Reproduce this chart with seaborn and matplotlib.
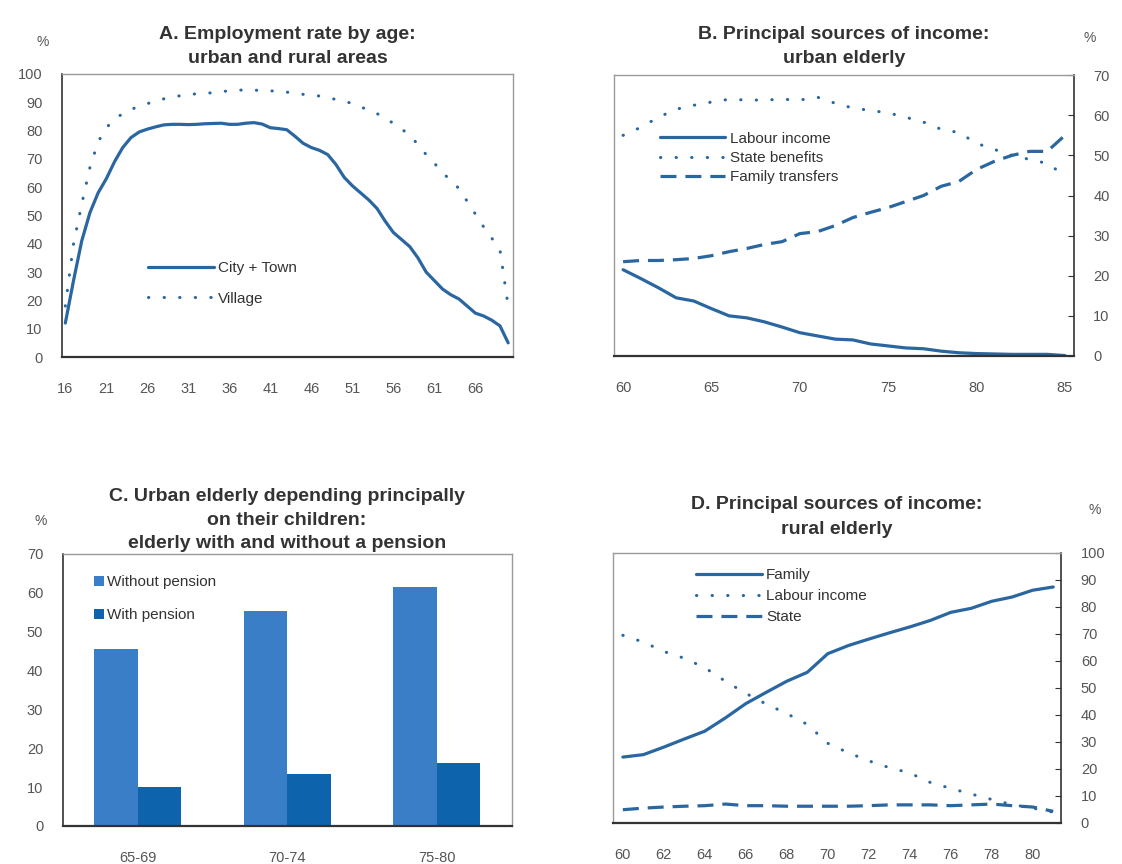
import numpy as np
import pandas as pd
import matplotlib
matplotlib.use("Agg")
import matplotlib.pyplot as plt
import seaborn as sns

sns.set_style("white")
plt.rcParams['font.family'] = ['Liberation Sans', 'DejaVu Sans']

# ---------------- Data ----------------
# Panel A
ages_a = list(range(16, 71))
city_town = [12, 27, 41, 51, 58, 63, 69, 74, 77.5, 79.5, 80.5, 81.3, 82, 82.2, 82.2, 82.1, 82.2, 82.4, 82.5, 82.6,
             82.2, 82.2, 82.6, 82.8, 82.3, 81, 80.7, 80.3, 78, 75.5, 74, 73, 71.5, 68, 63.5, 60.5, 58, 55.5, 52.5, 48,
             44, 41.5, 39, 35, 30, 27, 24, 22, 20.5, 18, 15.5, 14.5, 13, 11, 5]
village = [18, 40, 54, 67, 76, 81, 84, 86, 87.5, 88.5, 89.5, 90.5, 91.2, 91.8, 92.3, 92.7, 93, 93.1, 93.4, 93.7,
           94.1, 94.3, 94.3, 94.3, 94.1, 94, 94, 93.6, 93.1, 92.8, 92.5, 92.2, 91.6, 91, 90.3, 89.6, 88.5, 87, 86, 84.5,
           82.5, 80.5, 78.5, 75, 71.5, 68.5, 65, 62.5, 59.5, 55, 50.5, 46, 42, 37.8, 18]
a_xticks = [16, 21, 26, 31, 36, 41, 46, 51, 56, 61, 66]

# Panel B
ages_b = list(range(60, 86))
b_labour = [21.5, 19.3, 17, 14.5, 13.7, 11.8, 10, 9.5, 8.5, 7.2, 5.8, 5, 4.2, 4, 3, 2.5, 2, 1.8, 1.2, 0.8,
            0.6, 0.5, 0.4, 0.4, 0.4, 0.1]
b_state = [55, 57, 59.5, 61.5, 62.5, 63.3, 64, 63.8, 63.8, 64, 63.8, 64.5, 63, 61.8, 61.2, 60.6, 59.5, 58.3, 56.5,
           55.7, 53, 51.5, 50, 49, 48, 45]
b_family = [23.5, 23.8, 23.8, 24, 24.3, 25, 26, 26.8, 27.8, 28.5, 30.5, 31, 32.5, 34.5, 35.8, 37, 38.5, 40, 42.3,
            43.5, 46.5, 48.5, 50, 51, 51, 55]
b_xticks = [60, 65, 70, 75, 80, 85]

# Panel C
c_groups = ["65-69", "70-74", "75-80"]
c_without = [45.5, 55.4, 61.6]
c_with = [10.1, 13.4, 16.3]
c_series = ["Without pension", "With pension"]

# Panel D
ages_d = list(range(60, 82))
d_family = [24.4, 25.3, 28.1, 31.1, 34, 38.9, 44.2, 48.4, 52.5, 55.8, 62.7, 65.7, 68.1, 70.4, 72.6, 75, 78, 79.5,
            82.1, 83.7, 86.2, 87.4]
d_labour = [69.5, 67, 63.5, 61, 57.5, 52.5, 48, 44, 40.5, 36.5, 29.5, 26, 23, 20.5, 18.5, 15, 12.8, 10.7, 8.7,
            6.8, 5.5, 4]
d_state = [4.9, 5.5, 5.9, 6.2, 6.4, 7, 6.4, 6.4, 6.2, 6.2, 6.2, 6.2, 6.4, 6.7, 6.7, 6.7, 6.4, 6.7, 7, 6.4, 5.9, 4.3]
d_xticks = [60, 62, 64, 66, 68, 70, 72, 74, 76, 78, 80]

# ---------------- Style ----------------
LINE = "#2a66a0"
BAR1 = "#3b7ec8"
BAR2 = "#0e63ad"
TXT = "#333333"
TICK = "#555555"
DARK = "#333333"
LIGHT = "#9a9a9a"

solid = dict(color=LINE, lw=2.3, linestyle="-")
dotted = dict(color=LINE, lw=2.2, linestyle=(0, (0.1, 5.0)), dash_capstyle="round")
dashed = dict(color=LINE, lw=2.3, linestyle=(0, (5, 2.8)))

fig = plt.figure(figsize=(11.22, 8.64), dpi=100)

def frame(ax, side="left"):
    for s in ["top", "right", "left", "bottom"]:
        ax.spines[s].set_color(LIGHT)
        ax.spines[s].set_linewidth(1.0)
    ax.spines["bottom"].set_color(DARK)
    ax.spines["bottom"].set_linewidth(1.6)
    ax.spines[side].set_color(DARK)
    ax.spines[side].set_linewidth(1.2)
    if side == "right":
        ax.yaxis.tick_right()
    ax.tick_params(axis="y", which="both", direction="in", length=4, color=DARK,
                   labelsize=10.5, labelcolor=TICK, pad=14)
    ax.tick_params(axis="x", which="major", labelsize=10.5, labelcolor=TICK, pad=18)
    ax.set_xlabel("")
    ax.set_ylabel("")

# ---------- Panel A ----------
axA = fig.add_axes([0.0553, 0.5868, 0.402, 0.3276])
sns.lineplot(x=ages_a, y=city_town, ax=axA, label="City + Town", **solid)
sns.lineplot(x=ages_a, y=village, ax=axA, label="Village", **dotted)
axA.set_xlim(15.6, 70.6)
axA.set_ylim(0, 100)
axA.set_yticks(range(0, 101, 10))
axA.set_xticks(a_xticks)
axA.set_xticks(ages_a, minor=True)
frame(axA, "left")
axA.tick_params(axis="x", which="both", direction="in", length=5, color=DARK)
axA.legend(loc="center left", bbox_to_anchor=(0.16, 0.26), frameon=False, fontsize=11,
           handlelength=4.3, labelspacing=1.1, handletextpad=0.3, labelcolor=TXT)
axA.set_title("A. Employment rate by age:\nurban and rural areas", fontsize=14, fontweight="bold",
              color=TXT, pad=8, linespacing=1.55)
fig.text(0.038, 0.951, "%", fontsize=10, color=TICK, ha="center", va="center")

# ---------- Panel B ----------
axB = fig.add_axes([0.547, 0.588, 0.41, 0.325])
sns.lineplot(x=ages_b, y=b_labour, ax=axB, label="Labour income", **solid)
sns.lineplot(x=ages_b, y=b_state, ax=axB, label="State benefits", **dotted)
sns.lineplot(x=ages_b, y=b_family, ax=axB, label="Family transfers", **dashed)
axB.set_xlim(59.47, 85.5)
axB.set_ylim(0, 70)
axB.set_yticks(range(0, 71, 10))
axB.set_xticks(b_xticks)
axB.set_xticks(ages_b, minor=True)
frame(axB, "right")
axB.tick_params(axis="x", which="both", direction="in", length=5, color=DARK)
axB.legend(loc="center left", bbox_to_anchor=(0.07, 0.705), frameon=False, fontsize=11,
           handlelength=4.3, labelspacing=0.35, handletextpad=0.3, labelcolor=TXT)
axB.set_title("B. Principal sources of income:\nurban elderly", fontsize=14, fontweight="bold",
              color=TXT, pad=9, linespacing=1.55)
fig.text(0.971, 0.956, "%", fontsize=10, color=TICK, ha="center", va="center")

# ---------- Panel C ----------
axC = fig.add_axes([0.0559, 0.044, 0.400, 0.3148])
dfC = pd.DataFrame({
    "group": c_groups * 2,
    "value": c_without + c_with,
    "series": [c_series[0]] * 3 + [c_series[1]] * 3,
})
sns.barplot(data=dfC, x="group", y="value", hue="series", ax=axC, width=0.58,
            palette=[BAR1, BAR2], saturation=1, edgecolor="none")
axC.set_xlim(-0.5, 2.5)
axC.set_ylim(0, 70)
axC.set_yticks(range(0, 71, 10))
frame(axC, "left")
axC.tick_params(axis="x", which="both", length=0)
axC.legend(loc="center left", bbox_to_anchor=(0.04, 0.835), frameon=False, fontsize=11,
           handlelength=0.65, handleheight=0.65, labelspacing=1.25, handletextpad=0.2, labelcolor=TXT)
axC.set_title("C. Urban elderly depending principally\non their children:\nelderly with and without a pension",
              fontsize=14, fontweight="bold", color=TXT, pad=4, linespacing=1.5)
fig.text(0.036, 0.397, "%", fontsize=10, color=TICK, ha="center", va="center")

# ---------- Panel D ----------
axD = fig.add_axes([0.546, 0.0475, 0.400, 0.3125])
sns.lineplot(x=ages_d, y=d_family, ax=axD, label="Family", **solid)
sns.lineplot(x=ages_d, y=d_labour, ax=axD, label="Labour income", **dotted)
sns.lineplot(x=ages_d, y=d_state, ax=axD, label="State", **dashed)
axD.set_xlim(59.5, 81.4)
axD.set_ylim(0, 100)
axD.set_yticks(range(0, 101, 10))
axD.set_xticks(d_xticks)
axD.set_xticks([a + 0.5 for a in ages_d[:-1]], minor=True)
frame(axD, "right")
axD.tick_params(axis="x", which="major", length=0)
axD.tick_params(axis="x", which="minor", direction="in", length=5, color=DARK)
axD.legend(loc="center left", bbox_to_anchor=(0.155, 0.84), frameon=False, fontsize=11,
           handlelength=4.3, labelspacing=0.45, handletextpad=0.3, labelcolor=TXT)
axD.set_title("D. Principal sources of income:\nrural elderly", fontsize=14, fontweight="bold",
              color=TXT, pad=14, linespacing=1.55)
fig.text(0.976, 0.41, "%", fontsize=10, color=TICK, ha="center", va="center")

fig.savefig("out.png", dpi=100, facecolor="white")
